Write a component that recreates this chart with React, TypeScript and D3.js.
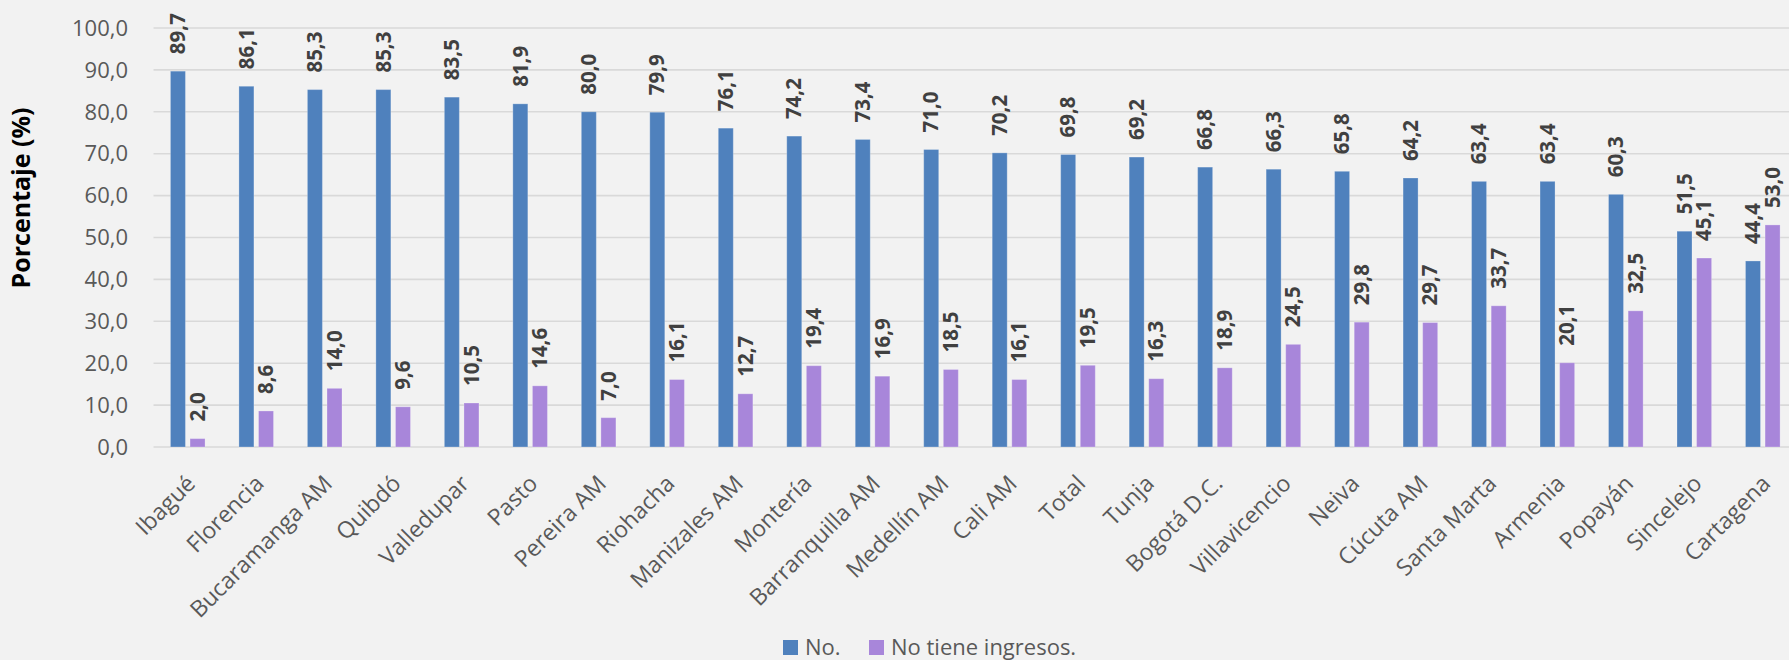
import React, { useEffect } from "react";
import * as d3 from "d3";

const categories = [
  "Ibagué", "Florencia", "Bucaramanga AM", "Quibdó", "Valledupar", "Pasto",
  "Pereira AM", "Riohacha", "Manizales AM", "Montería", "Barranquilla AM",
  "Medellín AM", "Cali AM", "Total", "Tunja", "Bogotá D.C.", "Villavicencio",
  "Neiva", "Cúcuta AM", "Santa Marta", "Armenia", "Popayán", "Sincelejo", "Cartagena",
];
const seriesNo = [
  89.7, 86.1, 85.3, 85.3, 83.5, 81.9, 80.0, 79.9, 76.1, 74.2, 73.4, 71.0,
  70.2, 69.8, 69.2, 66.8, 66.3, 65.8, 64.2, 63.4, 63.4, 60.3, 51.5, 44.4,
];
const seriesSinIngresos = [
  2.0, 8.6, 14.0, 9.6, 10.5, 14.6, 7.0, 16.1, 12.7, 19.4, 16.9, 18.5,
  16.1, 19.5, 16.3, 18.9, 24.5, 29.8, 29.7, 33.7, 20.1, 32.5, 45.1, 53.0,
];
const seriesNames = ["No.", "No tiene ingresos."];
const yTicks = [0, 10, 20, 30, 40, 50, 60, 70, 80, 90, 100];
const yTitle = "Porcentaje (%)";

const W = 1789;
const H = 660;
const COLORS = ["#4F81BD", "#A886DA"];
const FONT = "'Open Sans', 'Noto Sans', sans-serif";

const fmt = (v: number) => v.toFixed(1).replace(".", ",");

export default function App() {
  useEffect(() => {
    document.body.style.margin = "0";
  }, []);

  const plotLeft = 153.5;
  const step = 68.48;
  const x0 = d3
    .scaleBand<string>()
    .domain(categories)
    .range([plotLeft, plotLeft + step * categories.length])
    .paddingInner(0)
    .paddingOuter(0);
  const x1 = d3
    .scaleBand<number>()
    .domain([0, 1])
    .range([-17.3, 17.3])
    .paddingInner(0.235)
    .paddingOuter(0);
  const y = d3.scaleLinear().domain([0, 100]).range([447, 28]);

  const data = [seriesNo, seriesSinIngresos];

  return (
    <svg
      width={W}
      height={H}
      style={{ display: "block", background: "#F2F2F2" }}
      fontFamily={FONT}
    >
      <rect x={0} y={0} width={W} height={H} fill="#F2F2F2" />
      {yTicks.map((t) => (
        <g key={t}>
          <line
            x1={plotLeft}
            x2={W}
            y1={y(t)}
            y2={y(t)}
            stroke="#D9D9D9"
            strokeWidth={1.6}
          />
          <text
            x={128}
            y={y(t)}
            dy="0.35em"
            textAnchor="end"
            fontSize={22}
            fill="#595959"
          >
            {fmt(t)}
          </text>
        </g>
      ))}
      <text
        transform={`translate(30,198) rotate(-90)`}
        textAnchor="middle"
        fontSize={25}
        fontWeight="bold"
        fill="#000"
      >
        {yTitle}
      </text>
      {categories.map((c, i) => {
        const cx = (x0(c) as number) + x0.bandwidth() / 2;
        return (
          <g key={c}>
            {data.map((s, k) => {
              const bx = cx + (x1(k) as number);
              const bw = x1.bandwidth();
              const v = s[i];
              return (
                <g key={k}>
                  <rect
                    x={bx}
                    y={y(v)}
                    width={bw}
                    height={y(0) - y(v)}
                    fill={COLORS[k]}
                    stroke="#ffffff"
                    strokeOpacity={0.25}
                    strokeWidth={1}
                  />
                  <text
                    transform={`translate(${bx + bw / 2},${y(v) - 17}) rotate(-90)`}
                    dy="0.35em"
                    textAnchor="start"
                    fontSize={20.5}
                    fontWeight="bold"
                    fill="#404040"
                  >
                    {fmt(v)}
                  </text>
                </g>
              );
            })}
            <text
              transform={`translate(${cx + 9},${485}) rotate(-45)`}
              textAnchor="end"
              fontSize={23}
              fill="#595959"
            >
              {c}
            </text>
          </g>
        );
      })}
      {seriesNames.map((n, k) => {
        const lx = [783, 869][k];
        return (
          <g key={n}>
            <rect x={lx} y={640} width={15} height={15} fill={COLORS[k]} />
            <text x={lx + 22} y={655} fontSize={22} fill="#595959">
              {n}
            </text>
          </g>
        );
      })}
    </svg>
  );
}
